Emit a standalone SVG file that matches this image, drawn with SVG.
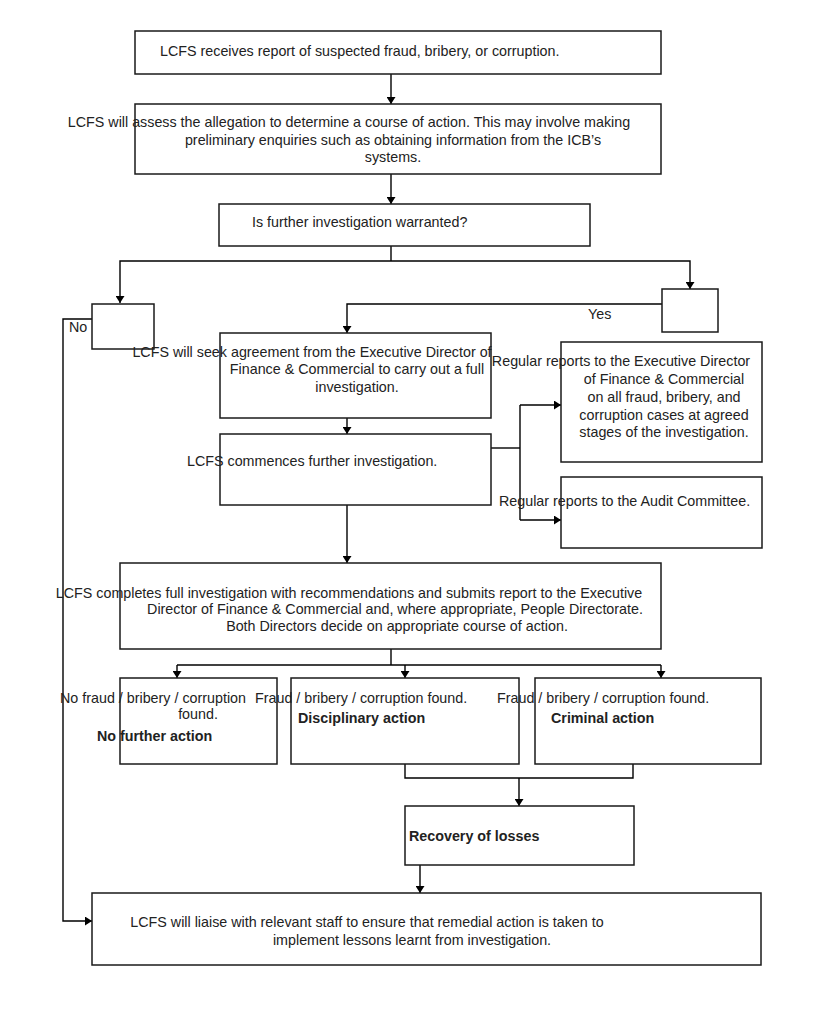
<svg xmlns="http://www.w3.org/2000/svg" width="832" height="1024" viewBox="0 0 832 1024">
<defs>
<marker id="arr" viewBox="0 0 10 10" refX="10" refY="5" markerWidth="7" markerHeight="9" markerUnits="userSpaceOnUse" orient="auto" preserveAspectRatio="none">
<path d="M0,0 L10,5 L0,10 z" fill="#000"/>
</marker>
<style>
.box{fill:#fff;stroke:#1a1a1a;stroke-width:1.5}
.t{font-family:"Liberation Sans",Arial,sans-serif;font-size:14.3px;fill:#222}
.m{text-anchor:middle}
.b{font-weight:bold}
.c{fill:none;stroke:#000;stroke-width:1.4}
.a{marker-end:url(#arr)}
</style>
</defs>
<rect width="832" height="1024" fill="#fff"/>
<g id="connectors">
<path class="c a" d="M391,74 V104"/>
<path class="c a" d="M391,174 V204"/>
<path class="c" d="M391,246 V261"/>
<path class="c a" d="M391,261 H120 V303"/>
<path class="c a" d="M391,261 H690 V289"/>
<path class="c a" d="M92,319 H63 V921 H92"/>
<path class="c a" d="M662,304 H347 V333"/>
<path class="c a" d="M347,418 V434"/>
<path class="c" d="M491,448 H520"/>
<path class="c" d="M520,405 V520"/>
<path class="c a" d="M520,405 H561"/>
<path class="c a" d="M520,520 H561"/>
<path class="c a" d="M347,505 V563"/>
<path class="c" d="M391,649 V665"/>
<path class="c" d="M177,665 H661"/>
<path class="c a" d="M177,665 V678"/>
<path class="c a" d="M405,665 V678"/>
<path class="c a" d="M661,665 V678"/>
<path class="c" d="M405,764 V778 H633 V764"/>
<path class="c a" d="M519,778 V806"/>
<path class="c a" d="M420,865 V893"/>
</g>
<g id="n1">
<rect class="box" x="135" y="31" width="526" height="43"/>
<text class="t" x="160" y="56">LCFS receives report of suspected fraud, bribery, or corruption.</text>
</g>
<g id="n2">
<rect class="box" x="135" y="104" width="526" height="70"/>
<text class="t m" x="349" y="127">LCFS will assess the allegation to determine a course of action. This may involve making</text>
<text class="t m" x="393" y="145">preliminary enquiries such as obtaining information from the ICB’s</text>
<text class="t m" x="393" y="162">systems.</text>
</g>
<g id="n3">
<rect class="box" x="219" y="204" width="371" height="42"/>
<text class="t" x="252" y="227">Is further investigation warranted?</text>
</g>
<g id="n-no">
<rect class="box" x="92" y="304" width="62" height="45"/>
<text class="t" x="69" y="332">No</text>
</g>
<g id="n-yes">
<rect class="box" x="662" y="289" width="56" height="43"/>
<text class="t" x="588" y="319">Yes</text>
</g>
<g id="n4">
<rect class="box" x="220" y="333" width="271" height="85"/>
<text class="t m" x="312" y="357">LCFS will seek agreement from the Executive Director of</text>
<text class="t m" x="357" y="374">Finance &amp; Commercial to carry out a full</text>
<text class="t m" x="357" y="392">investigation.</text>
</g>
<g id="n5">
<rect class="box" x="220" y="434" width="271" height="71"/>
<text class="t" x="187" y="466">LCFS commences further investigation.</text>
</g>
<g id="n6">
<rect class="box" x="561" y="342" width="201" height="120"/>
<text class="t m" x="621" y="366">Regular reports to the Executive Director</text>
<text class="t m" x="664" y="384">of Finance &amp; Commercial</text>
<text class="t m" x="664" y="402">on all fraud, bribery, and</text>
<text class="t m" x="664" y="420">corruption cases at agreed</text>
<text class="t m" x="664" y="437">stages of the investigation.</text>
</g>
<g id="n7">
<rect class="box" x="561" y="477" width="201" height="71"/>
<text class="t" x="499" y="506">Regular reports to the Audit Committee.</text>
</g>
<g id="n8">
<rect class="box" x="120" y="563" width="541" height="86"/>
<text class="t m" x="349" y="598">LCFS completes full investigation with recommendations and submits report to the Executive</text>
<text class="t m" x="395" y="614">Director of Finance &amp; Commercial and, where appropriate, People Directorate.</text>
<text class="t m" x="397" y="631">Both Directors decide on appropriate course of action.</text>
</g>
<g id="n9">
<rect class="box" x="120" y="678" width="157" height="86"/>
<text class="t m" x="153" y="703">No fraud / bribery / corruption</text>
<text class="t m" x="198" y="719">found.</text>
<text class="t b" x="97" y="741">No further action</text>
</g>
<g id="n10">
<rect class="box" x="291" y="678" width="228" height="86"/>
<text class="t" x="255" y="703">Fraud / bribery / corruption found.</text>
<text class="t b" x="298" y="723">Disciplinary action</text>
</g>
<g id="n11">
<rect class="box" x="535" y="678" width="226" height="86"/>
<text class="t" x="497" y="703">Fraud / bribery / corruption found.</text>
<text class="t b" x="551" y="723">Criminal action</text>
</g>
<g id="n12">
<rect class="box" x="405" y="806" width="229" height="59"/>
<text class="t b" x="409" y="841">Recovery of losses</text>
</g>
<g id="n13">
<rect class="box" x="92" y="893" width="669" height="72"/>
<text class="t m" x="367" y="927">LCFS will liaise with relevant staff to ensure that remedial action is taken to</text>
<text class="t m" x="412" y="945">implement lessons learnt from investigation.</text>
</g>
</svg>
